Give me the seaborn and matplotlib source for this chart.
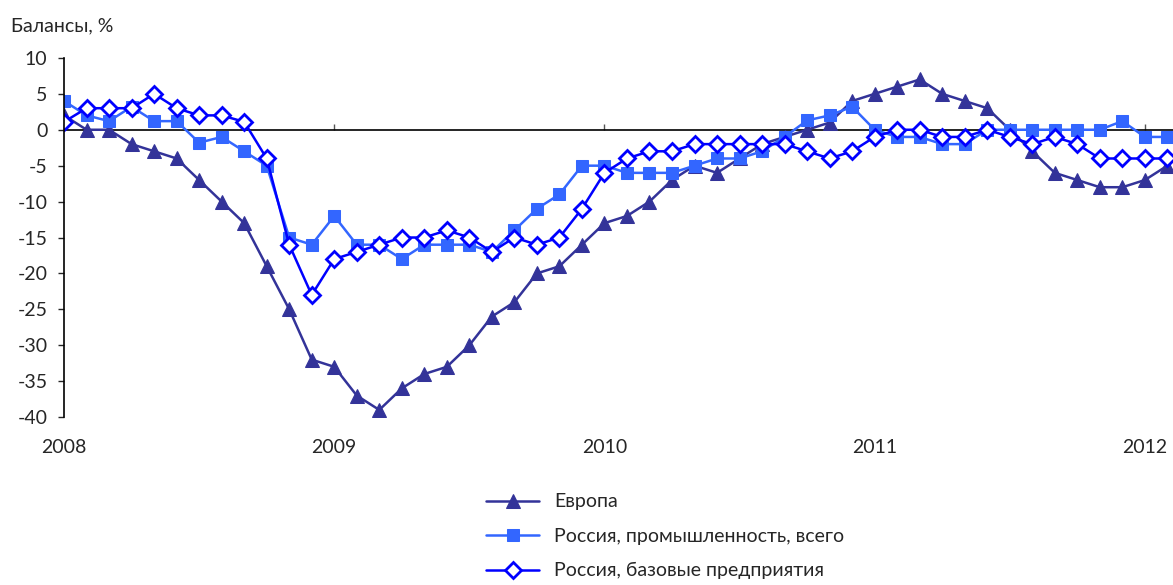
import matplotlib
matplotlib.use("Agg")
import matplotlib.pyplot as plt
import numpy as np
import seaborn as sns

# monthly balances, Jan 2008 .. Feb 2012
europe = [2, 0, 0, -2, -3, -4, -7, -10, -13, -19, -25, -32,
          -33, -37, -39, -36, -34, -33, -30, -26, -24, -20, -19, -16,
          -13, -12, -10, -7, -5, -6, -4, -2, -1, 0, 1, 4,
          5, 6, 7, 5, 4, 3, 0, -3, -6, -7, -8, -8,
          -7, -5]
rus_total = [4, 2, 1.2, 3.2, 1.2, 1.2, -1.8, -1, -3, -5, -15, -16,
             -12, -16, -16, -18, -16, -16, -16, -17, -14, -11, -9, -5,
             -5, -6, -6, -6, -5, -4, -4, -3, -1, 1.3, 2, 3.2,
             0, -1, -1, -2, -2, 0, 0, 0, 0, 0, 0, 1.2,
             -1, -1]
rus_base = [1.1, 3, 3, 3, 5, 3, 2, 2, 1.1, -4, -16, -23,
            -18, -17, -16, -15, -15, -14, -15, -17, -15, -16, -15, -11,
            -6, -4, -3, -3, -2, -2, -2, -2, -2, -3, -4, -3,
            -1, 0, 0, -1, -1, 0, -1, -2, -1, -2, -4, -4,
            -4, -4]
years = ["2008", "2009", "2010", "2011", "2012"]
labels = ["Европа", "Россия, промышленность, всего", "Россия, базовые предприятия"]

sns.set_style("white")
plt.rcParams['font.family'] = ['Lato', 'DejaVu Sans']
plt.rcParams['axes.unicode_minus'] = False

x = np.arange(len(europe))
fig = plt.figure(figsize=(11.73, 5.85), dpi=100)
ax = fig.add_axes([0.0546, 0.287, 0.9454, 0.614])

sns.lineplot(x=x, y=europe, ax=ax, color="#333399", marker="^", markersize=10,
             markeredgecolor="#333399", linewidth=1.8, label=labels[0])
sns.lineplot(x=x, y=rus_total, ax=ax, color="#3366FF", marker="s", markersize=9,
             markeredgecolor="#3366FF", linewidth=1.8, label=labels[1])
sns.lineplot(x=x, y=rus_base, ax=ax, color="#0000FF", marker="D", markersize=8,
             markerfacecolor="white", markeredgecolor="#0000FF", markeredgewidth=2,
             linewidth=1.8, label=labels[2])

ax.axhline(0, color="black", linewidth=1.2, zorder=1)
ax.set_xlim(0, 49.25)
ax.set_ylim(-40, 10)
ax.set_yticks(range(-40, 11, 5))
ax.tick_params(axis="y", direction="out", length=4, width=1, pad=8, labelsize=14, left=True)

ax.set_xticks(range(0, len(europe), 12))
ax.set_xticklabels(years)
ax.tick_params(axis="x", length=0, pad=16, labelsize=14)

# small ticks on the zero line
sec = ax.secondary_xaxis(0.8)
sec.set_xticks(range(0, len(europe), 12))
sec.set_xticklabels([])
sec.tick_params(axis="x", direction="out", length=4, width=1, colors="#555555",
                labelbottom=False, labeltop=False)
sec.spines["bottom"].set_visible(False)
sec.spines["top"].set_visible(False)

for s in ["top", "right", "bottom"]:
    ax.spines[s].set_visible(False)
ax.spines["left"].set_color("black")
ax.spines["left"].set_linewidth(1.2)

fig.text(0.009, 0.955, "Балансы, %", fontsize=14, va="center")

ax.get_legend().remove()
h, l = ax.get_legend_handles_labels()
fig.legend(h, l, loc="upper left", bbox_to_anchor=(0.408, 0.17), frameon=False,
           fontsize=14, handlelength=2.7, labelspacing=0.9, handletextpad=0.8,
           borderaxespad=0)

fig.savefig("out.png", dpi=100)
